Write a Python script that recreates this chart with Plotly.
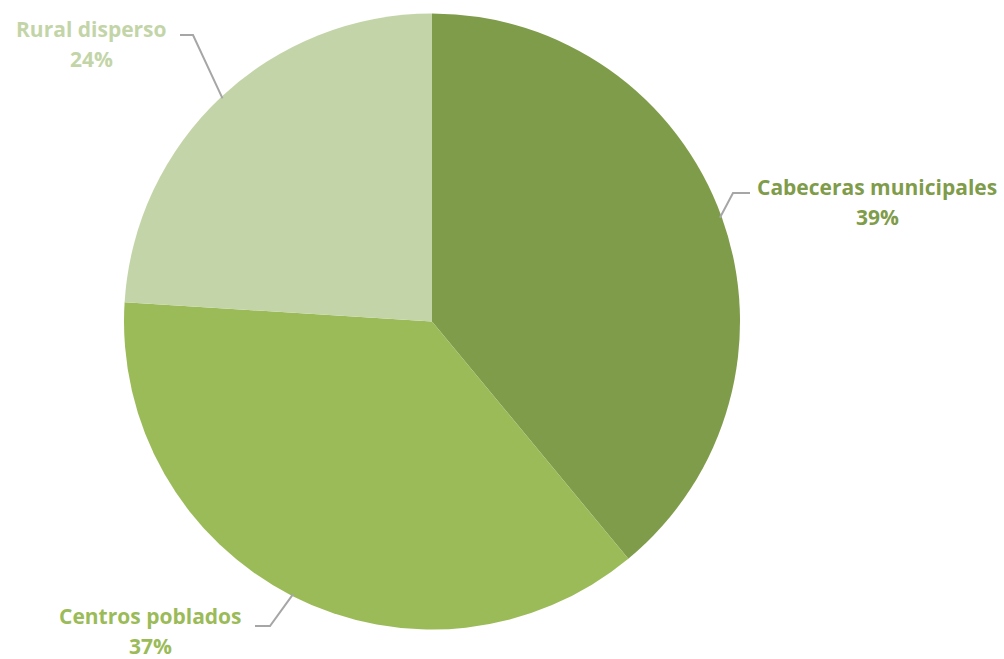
import math
import plotly.graph_objects as go

# ---- data ----
categories = ["Cabeceras municipales", "Centros poblados", "Rural disperso"]
percentages = [39, 37, 24]

# ---- styles ----
colors = ["#7f9c4a", "#9bbb59", "#c3d5a8"]
W, H = 1004, 659
cx, cy, R = 432, 321.5, 308

# label placement (pixels): (line1 centre x, line1 centre y, elbow x, elbow y, end x)
label_layout = [
    (877, 187, 733, 193, 750),
    (150, 616, 270, 626, 255),
    (91, 29, 193, 35, 180),
]

def px(x, y):
    return x / W, 1 - y / H

fig = go.Figure()
fig.add_trace(go.Pie(
    labels=categories, values=percentages, sort=False, direction="clockwise",
    rotation=0, marker=dict(colors=colors, line=dict(width=0)),
    textinfo="none", hoverinfo="label+percent",
    domain=dict(x=[(cx - R) / W, (cx + R) / W], y=[1 - (cy + R) / H, 1 - (cy - R) / H]),
    showlegend=False,
))

total = sum(percentages)
start = 90.0
annotations = []
shapes = []
for cat, val, col, (lx, ly, ex, ey, endx) in zip(categories, percentages, colors, label_layout):
    frac = val / total
    mid = start - frac * 360 / 2
    start -= frac * 360
    sx = cx + (R - 2) * math.cos(math.radians(mid))
    sy = cy - (R - 2) * math.sin(math.radians(mid))
    pts = [(sx, sy), (ex, ey), (endx, ey)]
    path = "M " + " L ".join(f"{x:.1f},{H - y:.1f}" for x, y in pts)
    shapes.append(dict(type="path", xref="x", yref="y", path=path,
                       line=dict(color="#a6a6a6", width=2)))
    x1, y1 = px(lx, ly)
    x2, y2 = px(lx, ly + 30)
    font = dict(family="Open Sans", size=21, color=col)
    annotations.append(dict(x=x1, y=y1, xref="paper", yref="paper", text=f"<b>{cat}</b>",
                            showarrow=False, xanchor="center", yanchor="middle", font=font))
    annotations.append(dict(x=x2, y=y2, xref="paper", yref="paper", text=f"<b>{val}%</b>",
                            showarrow=False, xanchor="center", yanchor="middle", font=font))

fig.update_layout(
    width=W, height=H, margin=dict(l=0, r=0, t=0, b=0),
    paper_bgcolor="white", plot_bgcolor="rgba(0,0,0,0)",
    xaxis=dict(range=[0, W], visible=False, fixedrange=True),
    yaxis=dict(range=[0, H], visible=False, fixedrange=True),
    annotations=annotations, shapes=shapes,
)
fig.write_html("out.html", config={"displayModeBar": False},
               post_script="document.body.style.margin='0';document.body.style.overflow='hidden';")
